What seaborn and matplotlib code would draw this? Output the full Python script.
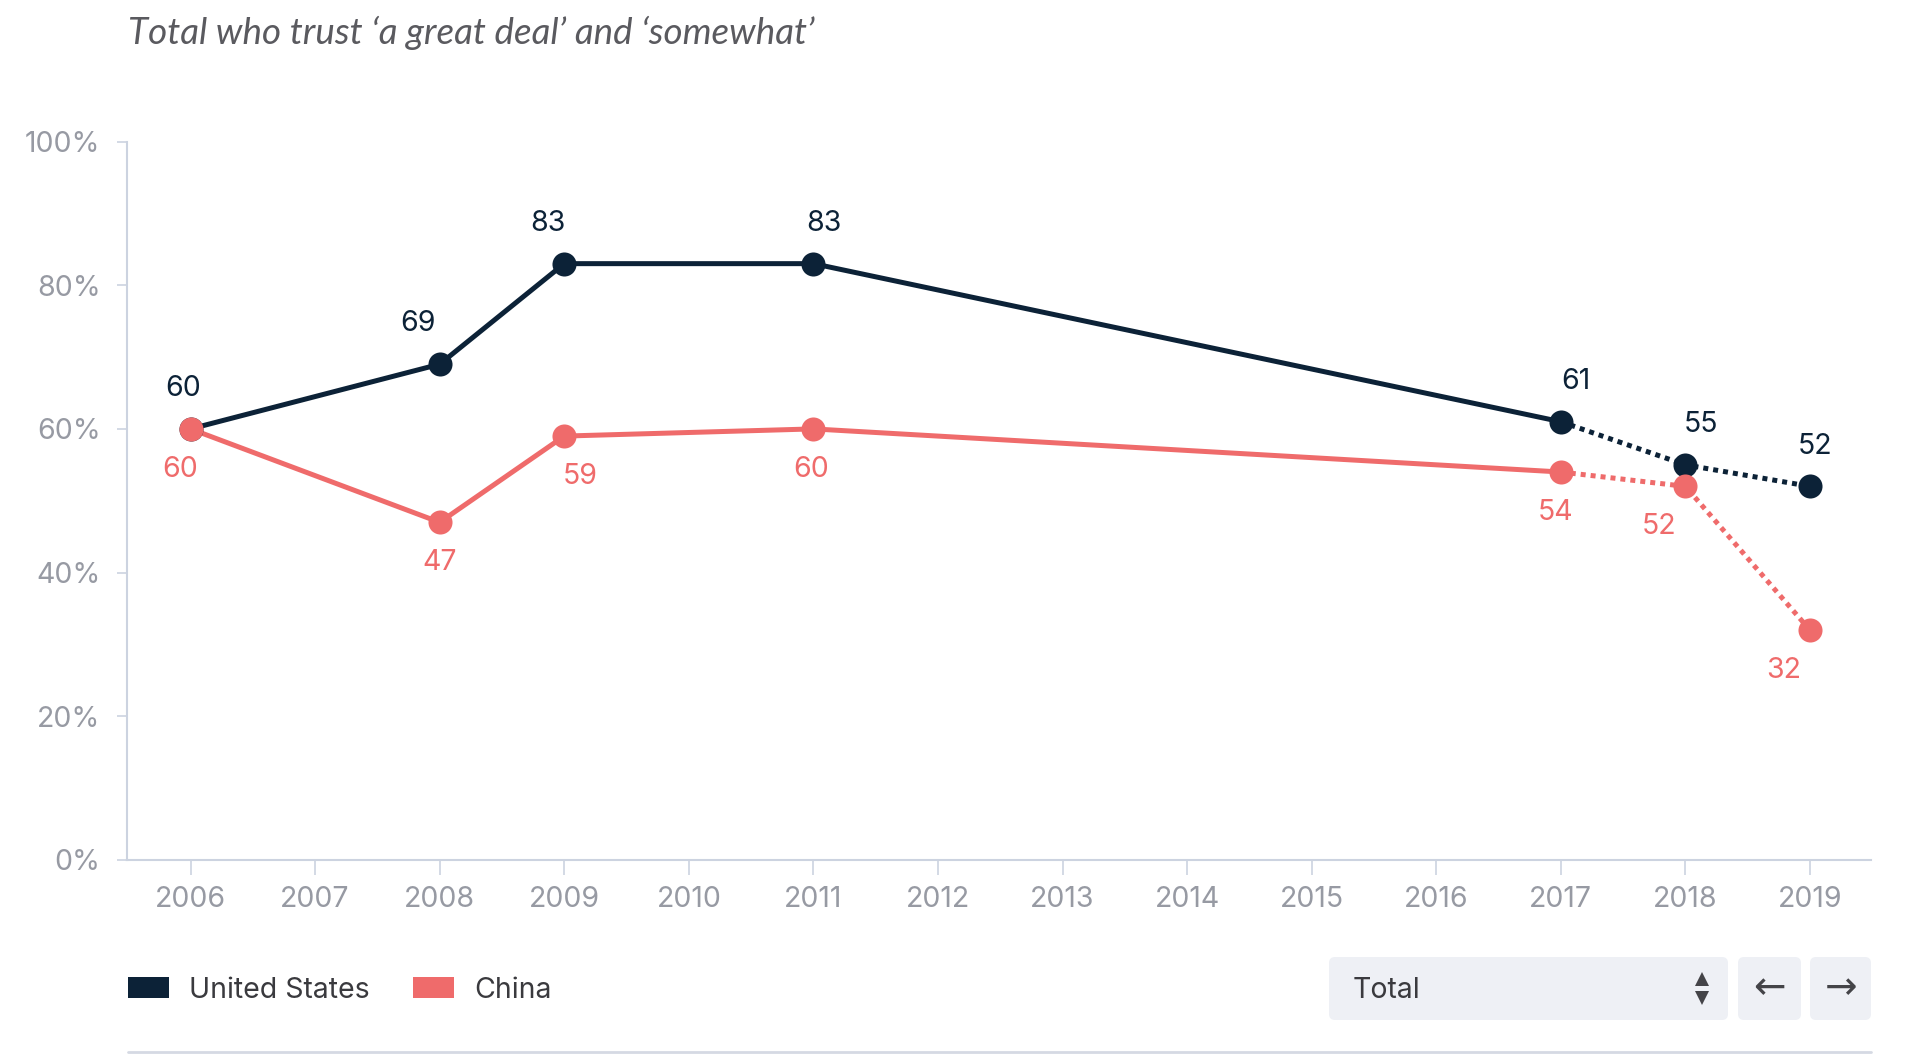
import numpy as np
import pandas as pd
import seaborn as sns
import matplotlib.pyplot as plt
from matplotlib.patches import Patch, FancyBboxPatch

# data
years = [2006, 2008, 2009, 2011, 2017, 2018, 2019]
us_trust = [60, 69, 83, 83, 61, 55, 52]
china_trust = [60, 47, 59, 60, 54, 52, 32]
countries = ["United States", "China"]
last_solid = 2017  # after this the lines turn dotted

title = "Total who trust \u2018a great deal\u2019 and \u2018somewhat\u2019"
dropdown_text = "Total"

palette = {"United States": "#0c2237", "China": "#ef6b6b"}

# small nudges (pixels) so labels sit like the original
us_dx = [-7, -22, -16, 11, 15, 16, 5]
cn_dx = [-10, 0, 16, -2, -5, -26, -26]

df = pd.DataFrame({
    "year": years * 2,
    "value": us_trust + china_trust,
    "country": ["United States"] * len(years) + ["China"] * len(years),
})
solid = df[df["year"] <= last_solid]
dotted = df[df["year"] >= last_solid]

sns.set_style("white")
plt.rcParams["font.family"] = ["Inter", "DejaVu Sans"]
fs = 20.5

W, H = 1907, 1058
fig = plt.figure(figsize=(W / 100, H / 100), dpi=100)
ax = fig.add_axes([127 / W, 1 - 860 / H, (1871 - 127) / W, (860 - 141.5) / H])

lw = 3.6
for c in countries:
    sns.lineplot(data=solid[solid["country"] == c], x="year", y="value",
                 color=palette[c], linewidth=lw, ax=ax, legend=False)
    sns.lineplot(data=dotted[dotted["country"] == c], x="year", y="value",
                 color=palette[c], linewidth=lw, linestyle=(0, (1, 1)),
                 ax=ax, legend=False)
for c in countries:
    sns.scatterplot(data=df[df["country"] == c], x="year", y="value",
                    color=palette[c], s=300, linewidth=0, ax=ax,
                    legend=False, zorder=5)

# value labels
for x, y, dx in zip(years, us_trust, us_dx):
    ax.annotate(str(y), (x, y), xytext=(dx * 0.72, 29), textcoords="offset points",
                ha="center", va="center", fontsize=fs, color=palette["United States"])
for x, y, dx in zip(years, china_trust, cn_dx):
    ax.annotate(str(y), (x, y), xytext=(dx * 0.72, -29), textcoords="offset points",
                ha="center", va="center", fontsize=fs, color=palette["China"])

ax.set_xlim(2005.49, 2019.49)
ax.set_ylim(0, 100)
ax.set_xticks(range(2006, 2020))
ax.set_yticks(range(0, 101, 20))
ax.set_yticklabels([f"{v}%" for v in range(0, 101, 20)])
ax.set_xlabel("")
ax.set_ylabel("")

axis_col = "#ccd3e0"
for s in ["top", "right"]:
    ax.spines[s].set_visible(False)
for s in ["left", "bottom"]:
    ax.spines[s].set_color(axis_col)
    ax.spines[s].set_linewidth(1.5)
ax.tick_params(axis="x", length=11, width=1.2, color=axis_col, pad=8,
               labelsize=fs, labelcolor="#979aa3", bottom=True)
ax.tick_params(axis="y", length=7, width=1.2, color=axis_col, pad=12,
               labelsize=fs, labelcolor="#979aa3", left=True)

fig.text(128 / W, 1 - 33 / H, title, fontsize=26.5, style="italic",
         color="#5a5a5f", ha="left", va="center", family="Lato")

handles = [Patch(facecolor=palette[c], edgecolor="none", label=c) for c in countries]
fig.legend(handles=handles, loc="center left", bbox_to_anchor=(128 / W, 1 - 990 / H),
           ncol=2, frameon=False, fontsize=fs, handlelength=1.45, handleheight=0.75,
           handletextpad=0.7, columnspacing=1.5, borderpad=0, borderaxespad=0,
           labelcolor="#3a3a3e")

# overlay in pixel coords for the dropdown widget and the bottom rule
ov = fig.add_axes([0, 0, 1, 1], zorder=10)
ov.set_xlim(0, W)
ov.set_ylim(H, 0)
ov.axis("off")
ov.patch.set_alpha(0)

box_col = "#eef0f5"
for x0, x1 in [(1329, 1728), (1738, 1801), (1810, 1871)]:
    ov.add_patch(FancyBboxPatch((x0, 957), x1 - x0, 63,
                                boxstyle="round,pad=0,rounding_size=6",
                                facecolor=box_col, edgecolor="none"))
ov.text(1353, 990, dropdown_text, fontsize=fs, color="#3a3a3e", ha="left", va="center")
ov.plot([1702], [979], marker="^", ms=10, color="#444448", mew=0)
ov.plot([1702], [998], marker="v", ms=10, color="#444448", mew=0)
ov.text(1769, 988, "\u2190", fontsize=28, color="#444448", ha="center", va="center",
        family="DejaVu Sans")
ov.text(1841, 988, "\u2192", fontsize=28, color="#444448", ha="center", va="center",
        family="DejaVu Sans")
ov.plot([128, 1871], [1052, 1052], color="#d5d9e3", lw=2)

fig.savefig("out.png", dpi=100)
